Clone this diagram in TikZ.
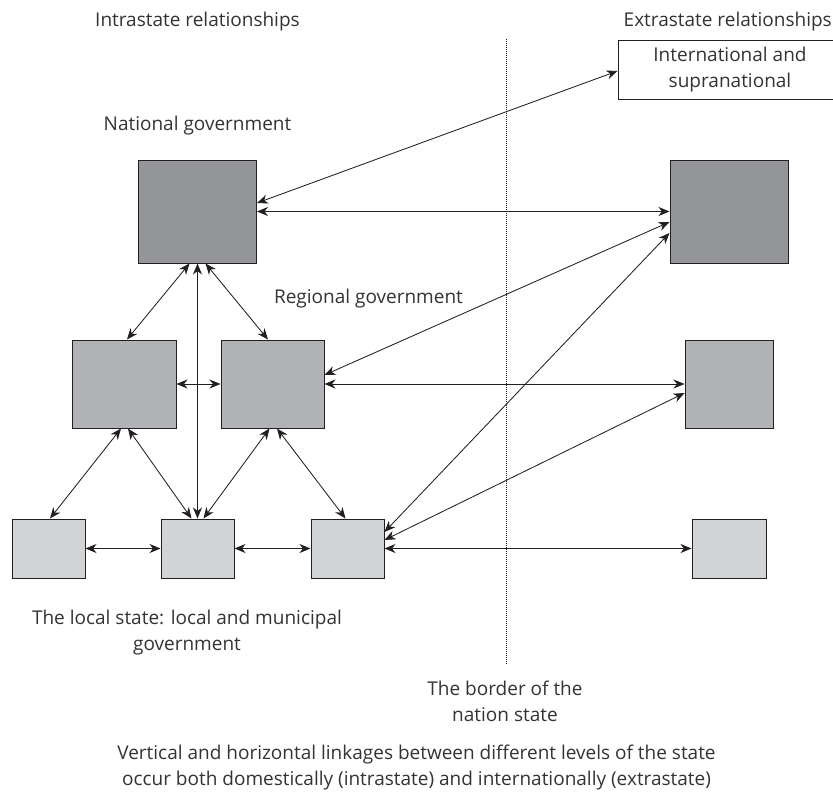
\documentclass[tikz,border=0pt]{standalone}
\usepackage{fontspec}
\setmainfont{Open Sans}
\usetikzlibrary{arrows.meta}
\definecolor{ink}{HTML}{231F20}
\definecolor{txt}{HTML}{333333}
\definecolor{gA}{HTML}{939598}
\definecolor{gB}{HTML}{B1B3B6}
\definecolor{gC}{HTML}{D1D3D4}
\begin{document}
\begin{tikzpicture}[x=1pt,y=-1pt,
  box/.style={draw=ink, line width=1pt, inner sep=0pt},
  natbox/.style={box, fill=gA, minimum width=118pt, minimum height=103pt},
  regbox/.style={box, fill=gB, minimum height=88pt},
  locbox/.style={box, fill=gC, minimum height=59pt},
  lnk/.style={draw=ink, line width=0.85pt, {Stealth[length=11pt,width=9pt,inset=3.5pt]}-{Stealth[length=11pt,width=9pt,inset=3.5pt]}},
  lbl/.style={text=txt, font=\fontsize{19}{26}\selectfont, inner sep=0pt},
]
\useasboundingbox (0,0) rectangle (833,792);

% border of the nation state
\coordinate (bordertop) at (506,39);
\coordinate (borderbot) at (506,665);
\draw[ink, line width=0.7pt, dash pattern=on 0.9pt off 1.1pt] (bordertop) -- (borderbot);

% headings
\node[lbl, anchor=base west] (intra) at (95,27) {Intrastate relationships};
\node[lbl, anchor=base east] (extra) at (832,27) {Extrastate relationships};
\node[lbl, anchor=base] (natlbl) at (197.5,130) {National government};
\node[lbl, anchor=base] (reglbl) at (368.5,303) {Regional government};

% boxes
\node[box, lbl, fill=white, draw=ink, inner sep=0pt, minimum width=224pt, minimum height=58pt, align=center, text=txt] (intl) at (730,70) {International and\\supranational};
\node[natbox] (natL) at (197.5,211.5) {};
\node[natbox] (natR) at (729,211.5) {};
\node[regbox, minimum width=104pt] (regL) at (124,384) {};
\node[regbox, minimum width=103pt] (regM) at (272.5,384) {};
\node[regbox, minimum width=88pt] (regR) at (729,384) {};
\node[locbox, minimum width=73pt] (loc1) at (48.5,548.5) {};
\node[locbox, minimum width=73pt] (loc2) at (197.5,548.5) {};
\node[locbox, minimum width=73pt] (loc3) at (347.5,548.5) {};
\node[locbox, minimum width=74pt] (locR) at (729,548.5) {};

% extrastate links
\draw[lnk] ([yshift=8.5pt]natL.east) -- ([yshift=-1pt]intl.west);
\draw[lnk] (natL.east) -- (natR.west);
\draw[lnk] ([yshift=9pt]regM.east) -- ([yshift=-10.5pt]natR.west);
\draw[lnk] ([yshift=16.5pt]loc3.east) -- ([yshift=-21.5pt]natR.west);
\draw[lnk] (regM.east) -- (regR.west);
\draw[lnk] ([yshift=8.5pt]loc3.east) -- ([yshift=-9pt]regR.west);
\draw[lnk] (loc3.east) -- (locR.west);

% intrastate links
\draw[lnk] ([xshift=-8pt]natL.south) -- ([xshift=3pt]regL.north);
\draw[lnk] (natL.south) -- (loc2.north);
\draw[lnk] ([xshift=8pt]natL.south) -- ([xshift=-4.5pt]regM.north);
\draw[lnk] (regL.east) -- (regM.west);
\draw[lnk] ([xshift=-3pt]regL.south) -- ([xshift=1.5pt]loc1.north);
\draw[lnk] ([xshift=4pt]regL.south) -- ([xshift=-6pt]loc2.north);
\draw[lnk] ([xshift=-3pt]regM.south) -- ([xshift=6pt]loc2.north);
\draw[lnk] ([xshift=4.5pt]regM.south) -- ([xshift=-2pt]loc3.north);
\draw[lnk] (loc1.east) -- (loc2.west);
\draw[lnk] (loc2.east) -- (loc3.west);

% captions
\node[lbl, align=center] (loclbl) at (187,633) {The local state: local and municipal\\government};
\node[lbl, align=center] (borderlbl) at (505,701) {The border of the\\nation state};
\node[lbl, align=center] (caption) at (416.5,768) {Vertical and horizontal linkages between different levels of the state\\occur both domestically (intrastate) and internationally (extrastate)};
\end{tikzpicture}
\end{document}
